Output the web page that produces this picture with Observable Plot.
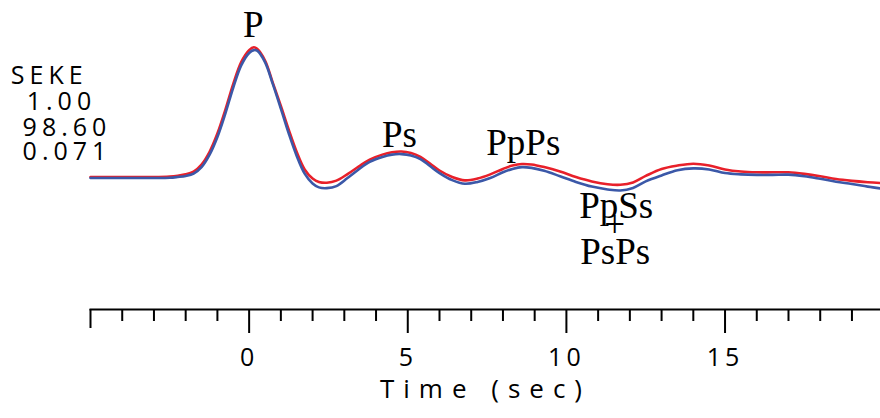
<!DOCTYPE html>
<html><head><meta charset="utf-8">
<script src="https://cdn.jsdelivr.net/npm/d3@7"></script>
<script src="https://cdn.jsdelivr.net/npm/@observablehq/plot@0.6"></script>
<style>
body{margin:0;background:#fff;}
#chart svg text{letter-spacing:4px;}
#chart svg g[font-family*="Open"] text{letter-spacing:5px;}
#chart svg g[font-family*="Serif"] text{letter-spacing:0;}
#chart svg g[aria-label="x-axis label"] text{letter-spacing:9px;font-size:26px;}
</style>
</head><body><div id="chart"></div>
<script>
// waveform samples (time in sec)
const time = [-5,-4,-3,-2.5,-2.25,-2,-1.75,-1.5,-1.25,-1,
  -0.75,-0.5,-0.25,0,0.15,0.25,0.5,0.75,1,1.25,
  1.5,1.75,2,2.2,2.45,2.75,3.1,3.45,3.8,4.2,
  4.5,4.8,5.1,5.4,5.7,6,6.4,6.8,7.2,7.6,
  8,8.3,8.6,8.9,9.3,9.8,10.3,10.8,11.3,11.7,
  12.1,12.5,13,13.5,14,14.5,15,15.5,16,16.5,
  17,17.5,18,18.5,19,19.5,19.9];
// observed (red)
const observed = [0.002,0.002,0.002,0.004,0.007,0.012,0.023,0.050,0.098,0.169,
  0.260,0.360,0.444,0.490,0.501,0.495,0.450,0.363,0.275,0.183,
  0.098,0.031,-0.004,-0.017,-0.020,-0.012,0.013,0.042,0.069,0.088,
  0.097,0.100,0.094,0.079,0.054,0.027,0.002,-0.011,-0.004,0.012,
  0.033,0.046,0.052,0.050,0.040,0.023,0.002,-0.015,-0.026,-0.028,
  -0.019,0.006,0.033,0.046,0.053,0.046,0.031,0.023,0.020,0.020,
  0.020,0.014,0.005,-0.006,-0.013,-0.018,-0.021];
// predicted (blue)
const predicted = [-0.002,-0.002,-0.002,-0.001,0.002,0.006,0.015,0.040,0.087,0.156,
  0.246,0.346,0.431,0.479,0.490,0.488,0.444,0.358,0.265,0.169,
  0.083,0.015,-0.023,-0.038,-0.041,-0.033,-0.002,0.031,0.060,0.079,
  0.088,0.090,0.085,0.071,0.044,0.017,-0.010,-0.024,-0.017,-0.002,
  0.020,0.033,0.040,0.037,0.026,0.005,-0.017,-0.035,-0.046,-0.050,
  -0.040,-0.015,0.008,0.028,0.035,0.031,0.017,0.012,0.010,0.010,
  0.011,0.005,-0.005,-0.016,-0.025,-0.035,-0.042];

// phase annotations
const phaseNames = ["P","Ps","PpPs","PpSs","+","PsPs"];
const phaseTimes = [0.13,4.74,8.64,11.57,11.52,11.54];
const phaseAmps  = [0.542,0.119,0.085,-0.154,-0.227,-0.333];

// station block
const stationLines = ["SEKE","1.00","98.60","0.071"];
const stationTimes = [-7.51,-7.01,-7.14,-7.14];
const stationAmps  = [0.3615,0.258,0.160,0.069];

// axis ticks
const majorTicks = [0,5,10,15];
const minorTicks = [-4,-3,-2,-1,1,2,3,4,6,7,8,9,11,12,13,14,16,17,18,19];
const endTicks = [-5];

const RED = "#e8202a", BLUE = "#3b58a8";

const chart = Plot.plot({
  width: 880, height: 418,
  marginLeft: 90, marginRight: 0, marginTop: 0, marginBottom: 109,
  style: {fontFamily: "'Open Sans'", color: "black", background: "white", overflow: "visible"},
  x: {domain: [-5, 19.9]},
  y: {domain: [-0.5077, 0.6808], axis: null},
  marks: [
    Plot.frame({anchor: "bottom", strokeWidth: 2}),
    Plot.axisX(minorTicks, {tickSize: 12, strokeWidth: 2, tickFormat: () => "", label: null}),
    Plot.axisX(endTicks, {tickSize: 19, strokeWidth: 2, tickFormat: () => "", label: null}),
    Plot.axisX(majorTicks, {tickSize: 24, strokeWidth: 2, tickPadding: 15, fontSize: 25,
      label: "Time (sec)", labelAnchor: "center", labelArrow: "none", labelOffset: 88}),
    Plot.line(time, {x: time, y: observed, stroke: RED, strokeWidth: 2.6, curve: "catmull-rom"}),
    Plot.line(time, {x: time, y: predicted, stroke: BLUE, strokeWidth: 2.6, curve: "catmull-rom"}),
    Plot.text(phaseNames, {x: phaseTimes, y: phaseAmps, text: phaseNames, lineAnchor: "bottom",
      fontFamily: "Liberation Serif", fontSize: 37, fill: "black"}),
    Plot.text(stationLines, {x: stationTimes, y: stationAmps, text: stationLines, lineAnchor: "bottom",
      textAnchor: "start", fontFamily: "Open Sans", fontSize: 25, fill: "black"})
  ]
});
document.getElementById("chart").appendChild(chart);
</script>
</body></html>
